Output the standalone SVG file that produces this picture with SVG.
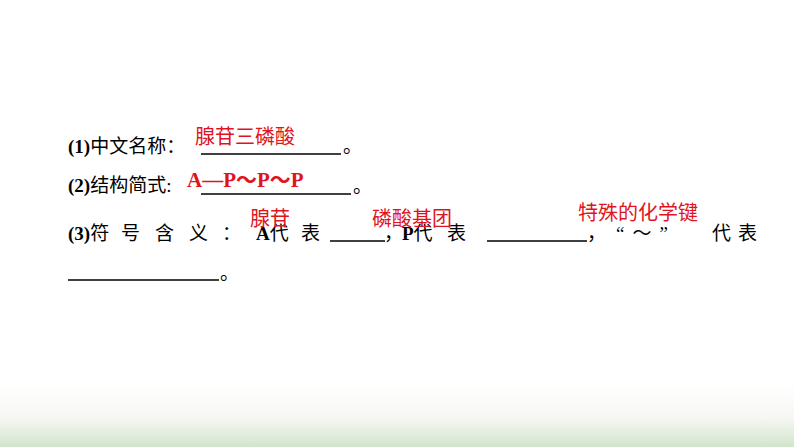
<svg xmlns="http://www.w3.org/2000/svg" width="794" height="447" viewBox="0 0 794 447">
<defs>
<linearGradient id="bg" x1="0" y1="0" x2="0" y2="1">
<stop offset="0" stop-color="#ffffff"/>
<stop offset="0.55" stop-color="#f7f8f5"/>
<stop offset="1" stop-color="#d3e4cc"/>
</linearGradient>
<style>
.k{font-family:"Liberation Serif","Noto Sans CJK SC",serif;font-size:19px;fill:#000}
.b{font-weight:bold}
.r{font-family:"Noto Sans CJK SC","Liberation Sans",sans-serif;font-size:20px;fill:#e0141e}
.rb{font-family:"Liberation Serif","Noto Sans CJK SC",serif;font-size:21px;font-weight:bold;fill:#e0141e}
line{stroke:#000;stroke-width:1.3}
</style>
</defs>
<rect width="794" height="447" fill="#fff"/>
<rect y="380" width="794" height="67" fill="url(#bg)"/>
<text class="k" x="68" y="153"><tspan class="b">(1)</tspan>中文名称：</text>
<line x1="201" y1="154" x2="341" y2="154"/>
<text class="k" x="343" y="153">。</text>
<text class="r" x="195" y="144">腺苷三磷酸</text>
<text class="k" x="68" y="192"><tspan class="b">(2)</tspan>结构简式:</text>
<line x1="201" y1="194" x2="351" y2="194"/>
<text class="k" x="353" y="193">。</text>
<text class="rb" x="187" y="187">A—P～P～P</text>
<g class="k">
<text x="68" y="240"><tspan class="b">(3)</tspan>符</text>
<text x="121" y="240">号</text>
<text x="155" y="240">含</text>
<text x="189" y="240">义</text>
<text x="222" y="240">：</text>
<text x="256" y="240"><tspan class="b">A</tspan>代</text>
<text x="301" y="240">表</text>
<text x="384" y="240">，</text>
<text x="402" y="240"><tspan class="b">P</tspan>代</text>
<text x="447" y="240">表</text>
<text x="587" y="240">，</text>
<text x="616" y="240" letter-spacing="8">“～”</text>
<text x="712" y="240">代</text>
<text x="738" y="240">表</text>
</g>
<line x1="330" y1="241" x2="385" y2="241"/>
<line x1="487" y1="241" x2="587" y2="241"/>
<text class="r" x="250" y="226">腺苷</text>
<text class="r" x="372" y="226">磷酸基团</text>
<text class="r" x="578" y="220">特殊的化学键</text>
<line x1="68" y1="280" x2="219" y2="280"/>
<text class="k" x="220" y="280">。</text>
</svg>
